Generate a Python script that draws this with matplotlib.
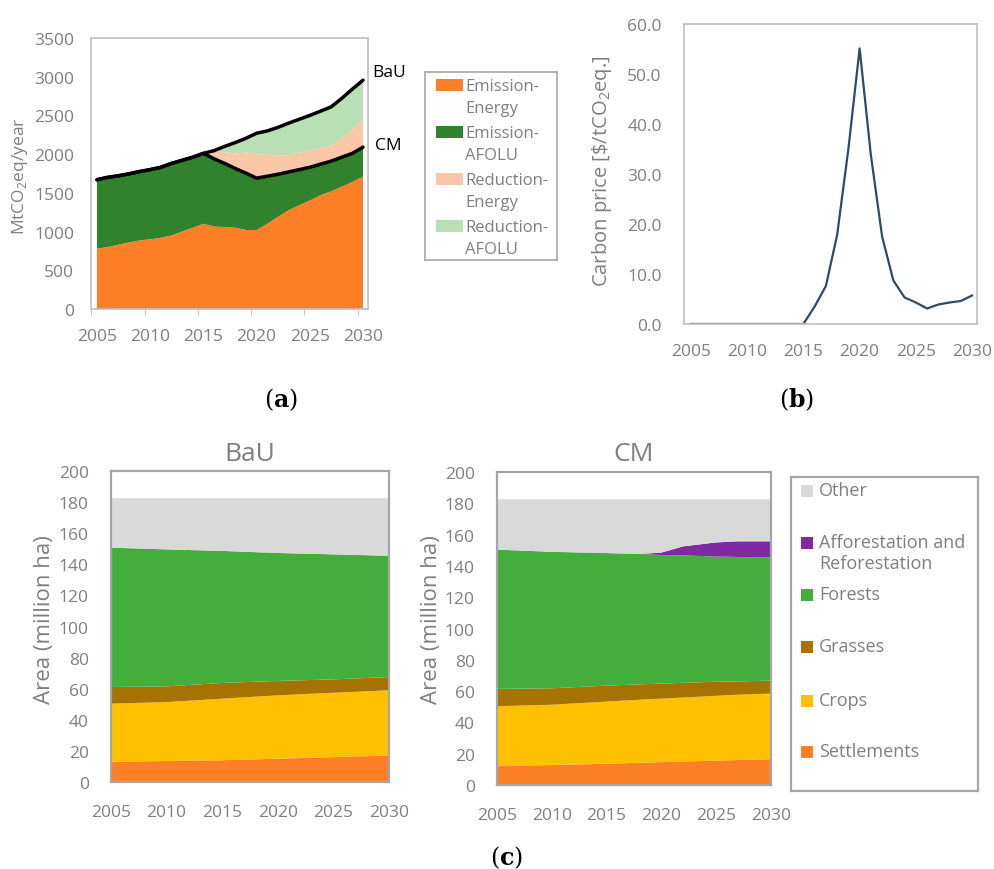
import numpy as np
import matplotlib
matplotlib.use('Agg')
import matplotlib.pyplot as plt
from matplotlib.patches import Rectangle

plt.rcParams['font.family'] = ['Open Sans', 'DejaVu Sans']
plt.rcParams['mathtext.fontset'] = 'custom'
plt.rcParams['mathtext.rm'] = 'Open Sans'

GREY = '#7F7F7F'
FRAME = '#BFBFBF'

# ---- (a) emissions, MtCO2eq/year ----
years_a = list(range(2005, 2031))
energy = [780, 800, 830, 860, 885, 900, 920, 950, 1000, 1050, 1100, 1065, 1060,
          1050, 1020, 1020, 1100, 1190, 1275, 1340, 1400, 1470, 1520, 1580, 1640, 1710]
cm_total = [1670, 1700, 1720, 1745, 1775, 1800, 1830, 1880, 1920, 1960, 2010, 1940, 1880,
            1815, 1755, 1690, 1715, 1740, 1770, 1800, 1830, 1870, 1910, 1960, 2010, 2090]
energy_reduced_top = [1670, 1700, 1720, 1745, 1775, 1800, 1830, 1880, 1920, 1960, 2010, 2035, 2025,
                      2010, 2020, 2000, 1990, 1985, 1985, 2020, 2050, 2080, 2110, 2200, 2320, 2450]
bau_total = [1670, 1700, 1720, 1745, 1775, 1800, 1830, 1880, 1920, 1960, 2010, 2045, 2100,
             2150, 2205, 2270, 2300, 2345, 2400, 2450, 2500, 2555, 2610, 2720, 2840, 2955]
legend_a = ['Emission-\nEnergy', 'Emission-\nAFOLU', 'Reduction-\nEnergy', 'Reduction-\nAFOLU']
colors_a = ['#FF7F27', '#31822C', '#FAC8A8', '#B9E0B5']

# ---- (b) carbon price ----
years_b = list(range(2005, 2031))
price = [0, 0, 0, 0, 0, 0, 0, 0, 0, 0, 0, 3.5, 7.6, 17.8, 35.0, 55.1, 33.8, 17.5,
         8.7, 5.3, 4.3, 3.1, 3.9, 4.3, 4.6, 5.7]

# ---- (c) land area, million ha ----
years_c = [2005, 2010, 2015, 2018, 2020, 2022, 2025, 2027, 2030]
categories_c = ['Settlements', 'Crops', 'Grasses', 'Forests', 'Afforestation and\nReforestation', 'Other']
colors_c = ['#FF7F27', '#FFC000', '#A67300', '#43AE3C', '#7F2AA0', '#D9D9D9']

settlements_bau = [13.0, 13.5, 14.0, 14.6, 15.0, 15.4, 16.0, 16.5, 17.0]
crops_bau = [37.4, 37.9, 39.6, 40.3, 40.7, 41.0, 41.4, 41.5, 42.0]
grasses_bau = [10.7, 10.1, 10.1, 9.6, 9.3, 9.0, 8.6, 8.6, 8.5]
forests_bau = [89.6, 88.1, 84.9, 83.3, 82.3, 81.5, 80.4, 79.4, 78.0]
affor_bau = [0, 0, 0, 0, 0, 0, 0, 0, 0]
other_bau = [31.8, 32.9, 33.9, 34.7, 35.2, 35.6, 36.1, 36.5, 37.0]

settlements_cm = [12.0, 12.8, 13.6, 14.2, 14.6, 15.0, 15.6, 16.0, 16.5]
crops_cm = [38.3, 38.5, 39.7, 40.3, 40.6, 40.9, 41.4, 41.7, 41.9]
grasses_cm = [11.1, 10.5, 10.2, 9.8, 9.6, 9.4, 9.0, 8.5, 8.3]
forests_cm = [89.0, 87.2, 84.7, 83.3, 82.2, 81.4, 80.0, 79.5, 78.7]
affor_cm = [0, 0, 0, 0, 1.5, 5.8, 9.0, 10.0, 10.3]
other_cm = [32.1, 33.5, 34.3, 34.9, 34.0, 30.0, 27.5, 26.8, 26.8]

W, H = 994, 870
fig = plt.figure(figsize=(W / 100, H / 100), dpi=100)


def px_axes(l, t, r, b):
    return fig.add_axes([l / W, 1 - b / H, (r - l) / W, (b - t) / H])


def style(ax, fc=FRAME, lw=1.2):
    for s in ax.spines.values():
        s.set_color(fc)
        s.set_linewidth(lw)
    ax.tick_params(colors=GREY, labelsize=12, length=0)


def ptext(x, y, s, **kw):
    return fig.text(x / W, 1 - y / H, s, **kw)


# (a)
ax = px_axes(91, 39, 368, 310)
e = np.array(energy)
cm = np.array(cm_total)
rt = np.array(energy_reduced_top)
bau = np.array(bau_total)
ax.stackplot(years_a, e, cm - e, rt - cm, bau - rt, colors=colors_a, linewidth=0)
ax.plot(years_a, bau, color='black', lw=2.5, solid_capstyle='round')
ax.plot(years_a, cm, color='black', lw=2.5, solid_capstyle='round')
ax.set_xlim(2004.44, 2030.47)
ax.set_ylim(0, 3500)
ax.set_xticks(range(2005, 2031, 5))
ax.set_yticks(range(0, 3501, 500))
ax.set_xticks([2004.44, 2009.5, 2014.5, 2019.5, 2024.5, 2029.5], minor=True)
style(ax)
ax.tick_params(axis='x', pad=14, labelsize=12.5)
ax.tick_params(axis='y', pad=12, labelsize=12.5)
ax.tick_params(axis='x', which='minor', length=4, color=FRAME)
ptext(20, 176, 'MtCO$_2$eq/year', rotation=90, ha='center', va='center', color=GREY, fontsize=12.5)
ptext(372, 73, 'BaU', ha='left', va='center', fontsize=12.5, color='black')
ptext(375, 146, 'CM', ha='left', va='center', fontsize=12.5, color='black')

lax = px_axes(425, 73, 557, 261)
lax.set_xlim(0, 132)
lax.set_ylim(188, 0)
lax.set_xticks([])
lax.set_yticks([])
style(lax, fc='#A6A6A6')
for i, (lab, c) in enumerate(zip(legend_a, colors_a)):
    y0 = 13 + 47 * i
    lax.add_patch(Rectangle((11, y0 - 6), 27, 12, color=c, lw=0))
    lax.text(40, y0 + 12, lab, ha='left', va='center', color=GREY, fontsize=12, linespacing=1.45)

# (b)
bx = px_axes(684, 25, 977, 325)
bx.plot(years_b, price, color='#2F4A68', lw=1.6)
bx.set_xlim(2004.38, 2030.44)
bx.set_ylim(0, 60)
bx.set_xticks(range(2005, 2031, 5))
bx.set_yticks(range(0, 61, 10))
bx.set_yticklabels([f'{v:.1f}' for v in range(0, 61, 10)])
style(bx)
bx.tick_params(axis='x', pad=14, labelsize=12.5)
bx.tick_params(axis='y', pad=16, labelsize=12.5)
ptext(602, 171, 'Carbon price [\\$/tCO$_2$eq.]', rotation=90, ha='center', va='center', color=GREY, fontsize=14.5)

# (c)
panels = [
    ((111, 472, 389, 783), 'BaU', [settlements_bau, crops_bau, grasses_bau, forests_bau, affor_bau, other_bau], 45),
    ((497, 473, 771, 786), 'CM', [settlements_cm, crops_cm, grasses_cm, forests_cm, affor_cm, other_cm], 432),
]
for (l, t, r, b), title, layers, ylx in panels:
    cx = px_axes(l, t, r, b)
    cx.stackplot(years_c, *layers, colors=colors_c, linewidth=0)
    cx.set_xlim(2005, 2030)
    cx.set_ylim(0, 200)
    cx.set_xticks(range(2005, 2031, 5))
    cx.set_yticks(range(0, 201, 20))
    style(cx, fc='#A6A6A6', lw=1.6)
    cx.tick_params(axis='x', pad=16, labelsize=12.5)
    cx.tick_params(axis='y', pad=16, labelsize=12.5)
    ptext((l + r) / 2, 455, title, ha='center', va='center', color=GREY, fontsize=19)
    ptext(ylx, 620, 'Area (million ha)', rotation=90, ha='center', va='center', color=GREY, fontsize=16)

lc = px_axes(791, 478, 978, 792)
lc.set_xlim(0, 187)
lc.set_ylim(314, 0)
lc.set_xticks([])
lc.set_yticks([])
style(lc, fc='#A6A6A6', lw=1.6)
entry_y = [275, 224, 170, 118, 66, 14]
for lab, c, y in zip(categories_c, colors_c, entry_y):
    lc.add_patch(Rectangle((10, y - 6), 12, 12, color=c, lw=0))
    lc.text(28, y - 10, lab, ha='left', va='top', color=GREY, fontsize=13, linespacing=1.2)

# panel labels
for x, y, s in [(281, 400, 'a'), (797, 400, 'b'), (506, 858, 'c')]:
    ptext(x, y, '($\\mathbf{' + s + '}$)', ha='center', va='center', fontsize=17,
          family='DejaVu Serif', math_fontfamily='dejavuserif', color='black')

fig.savefig('out.png', dpi=100)
